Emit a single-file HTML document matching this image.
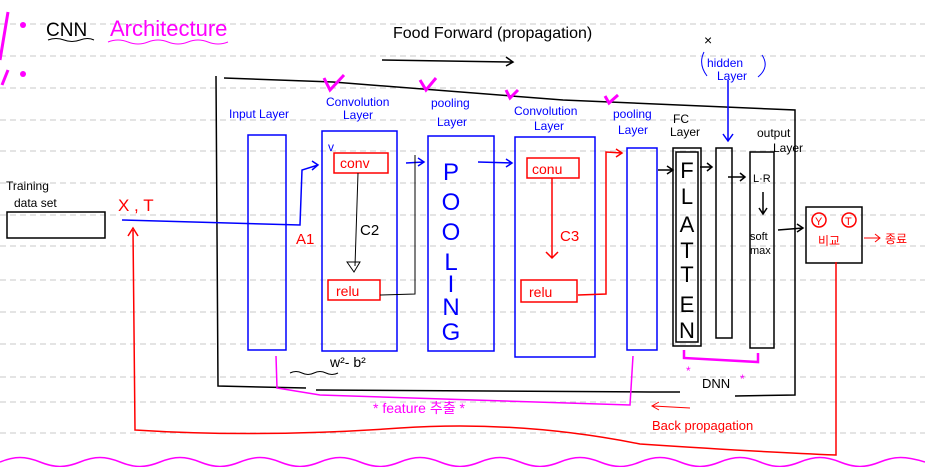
<!DOCTYPE html>
<html><head><meta charset="utf-8"><style>
html,body{margin:0;padding:0;background:#fff;overflow:hidden;}
svg{display:block}
text{font-family:"Liberation Sans","Noto Sans CJK KR",sans-serif;}
</style></head><body>
<svg width="925" height="467" viewBox="0 0 925 467" xmlns="http://www.w3.org/2000/svg">
<g stroke="#c8c8c8" stroke-width="1" stroke-dasharray="6,4">
<line x1="0" y1="24" x2="925" y2="24"/><line x1="0" y1="56" x2="925" y2="56"/>
<line x1="0" y1="88" x2="925" y2="88"/><line x1="0" y1="120" x2="925" y2="120"/>
<line x1="0" y1="151" x2="925" y2="151"/><line x1="0" y1="183" x2="925" y2="183"/>
<line x1="0" y1="215" x2="925" y2="215"/><line x1="0" y1="246" x2="925" y2="246"/>
<line x1="0" y1="280" x2="925" y2="280"/><line x1="0" y1="312" x2="925" y2="312"/>
<line x1="0" y1="344" x2="925" y2="344"/><line x1="0" y1="377" x2="925" y2="377"/>
<line x1="0" y1="402" x2="925" y2="402"/><line x1="0" y1="433" x2="925" y2="433"/>
</g>
<path d="M8 12 L0 60 M8 70 L2 85" stroke="#f0f" stroke-width="3" fill="none"/>
<circle cx="23" cy="25" r="3" fill="#f0f"/><circle cx="23" cy="74" r="3" fill="#f0f"/>
<text x="46" y="36" font-size="19" fill="#000">CNN</text>
<text x="110" y="36" font-size="22" fill="#f0f">Architecture</text>
<path d="M48 40 q8 -3 16 0 t16 0 t14 0" stroke="#000" fill="none"/>
<path d="M108 42 q10 -4 20 0 t20 0 t20 0 t20 0 t20 0 t20 0" stroke="#f0f" fill="none"/>
<text x="393" y="38" font-size="16" fill="#000">Food Forward (propagation)</text>
<path d="M382 60 L512 62 M506 57 L513 62 L506 66" stroke="#000" stroke-width="1.5" fill="none"/>
<path d="M216 76 L218 386 L306 388 M316 390 L650 392 L680 392 M224 78 L333 82 L563 100 L795 110 L795 395 L735 396" stroke="#000" stroke-width="1.5" fill="none"/>
<text x="6" y="190" font-size="12" fill="#000">Training</text>
<text x="14" y="207" font-size="12" fill="#000">data set</text>
<rect x="7" y="212" width="98" height="26" fill="none" stroke="#000" stroke-width="1.5"/>
<text x="118" y="211" font-size="17" fill="#f00">X , T</text>
<path d="M122 220 L300 225 L302 170 L318 165 M312 161 L318 165 L312 170" stroke="#00f" stroke-width="1.5" fill="none"/>
<text x="296" y="244" font-size="15" fill="#f00">A1</text>
<g fill="#00f" font-size="12">
<text x="229" y="118">Input Layer</text>
<text x="326" y="106">Convolution</text><text x="343" y="119">Layer</text>
<text x="431" y="107">pooling</text><text x="437" y="126">Layer</text>
<text x="514" y="115">Convolution</text><text x="534" y="130">Layer</text>
<text x="613" y="118">pooling</text><text x="618" y="134">Layer</text>
<text x="707" y="67">hidden</text><text x="717" y="80">Layer</text>
</g>
<text x="673" y="123" font-size="12" fill="#000">FC</text><text x="670" y="136" font-size="12" fill="#000">Layer</text>
<text x="757" y="137" font-size="12" fill="#000">output</text><text x="773" y="152" font-size="12" fill="#000">Layer</text>
<text x="704" y="45" font-size="14" fill="#000">×</text>
<path d="M728 80 L728 140 M723 134 L728 141 L733 134" stroke="#00f" stroke-width="1.5" fill="none"/>
<path d="M704 52 q-6 12 3 24 M762 55 q8 12 -4 22" stroke="#00f" fill="none"/>
<g stroke="#f0f" stroke-width="3" fill="none">
<path d="M324 78 L330 90 L344 75"/><path d="M420 80 L426 90 L436 78"/>
<path d="M506 90 L510 98 L518 90"/><path d="M605 96 L609 103 L618 95"/>
</g>
<g stroke="#00f" stroke-width="1.5" fill="none">
<rect x="248" y="135" width="38" height="215"/>
<rect x="322" y="131" width="75" height="220"/>
<rect x="428" y="136" width="66" height="215"/>
<rect x="515" y="137" width="80" height="220"/>
<rect x="627" y="148" width="30" height="202"/>
<path d="M406 163 L424 162 M418 158 L424 162 L418 166"/>
<path d="M478 162 L512 163 M506 159 L512 163 L506 167"/>
</g>
<g fill="#00f" font-size="24" text-anchor="middle">
<text x="451" y="180">P</text><text x="451" y="210">O</text><text x="451" y="240">O</text>
<text x="451" y="270">L</text><text x="451" y="292">I</text><text x="451" y="315">N</text><text x="451" y="340">G</text>
</g>
<g stroke="#f00" stroke-width="1.5" fill="none">
<rect x="334" y="153" width="54" height="20"/>
<rect x="328" y="280" width="52" height="20"/>
<rect x="527" y="158" width="52" height="20"/>
<rect x="521" y="280" width="56" height="22"/>
<path d="M552 178 L552 258 M546 252 L552 258 L558 252"/>
<path d="M578 295 L606 294 L606 152 L622 153 M616 149 L622 153 L616 157"/>
</g>
<g fill="#f00" font-size="14"><text x="340" y="168">conv</text><text x="532" y="174">conu</text>
<text x="336" y="296">relu</text><text x="529" y="297">relu</text>
<text x="560" y="241" font-size="15">C3</text></g>
<text x="328" y="151" font-size="12" fill="#00f">v</text>
<path d="M358 173 L355 266 M347 262 L354 272 L360 262 Z" stroke="#000" fill="none"/>
<text x="360" y="235" font-size="15" fill="#000">C2</text>
<path d="M380 295 L415 294 L415 155" stroke="#000" fill="none"/>
<text x="330" y="367" font-size="14" fill="#000">w²- b²</text>
<path d="M290 373 q6 -3 12 0 t12 0 t12 0 t12 0" stroke="#000" fill="none"/>
<g stroke="#000" stroke-width="1.5" fill="none">
<rect x="673" y="148" width="28" height="198"/>
<rect x="676" y="152" width="22" height="190"/>
<rect x="716" y="148" width="16" height="190"/>
<rect x="750" y="152" width="24" height="196"/>
<rect x="806" y="207" width="56" height="56"/>
<path d="M658 170 L672 170 M667 166 L673 170 L667 174"/>
<path d="M700 167 L712 167 M707 163 L712 167 L707 171"/>
<path d="M728 177 L745 177 M740 173 L745 177 L740 181"/>
<path d="M763 192 L763 214 M759 208 L763 214 L767 208"/>
<path d="M778 230 L803 228 M797 224 L803 228 L797 232"/>
</g>
<g fill="#000" font-size="22" text-anchor="middle">
<text x="687" y="178">F</text><text x="687" y="204">L</text><text x="687" y="232">A</text>
<text x="687" y="258">T</text><text x="687" y="282">T</text><text x="687" y="312">E</text><text x="687" y="338">N</text>
</g>
<text x="753" y="182" font-size="11" fill="#000">L·R</text>
<text x="750" y="240" font-size="11" fill="#000">soft</text><text x="750" y="254" font-size="11" fill="#000">max</text>
<circle cx="819" cy="220" r="7" fill="none" stroke="#f00" stroke-width="1.5"/>
<circle cx="849" cy="220" r="7" fill="none" stroke="#f00" stroke-width="1.5"/>
<text x="815" y="225" font-size="11" fill="#f00">Y</text><text x="845" y="225" font-size="11" fill="#f00">T</text>
<text x="818" y="245" font-size="12" fill="#f00">비교</text>
<path d="M864 238 L880 238 M875 234 L880 238 L875 242" stroke="#f00" fill="none"/>
<text x="885" y="243" font-size="12" fill="#f00">종료</text>
<path d="M684 350 L684 358 L758 362 L758 353" stroke="#f0f" stroke-width="2.5" fill="none"/>
<text x="702" y="388" font-size="13" fill="#000">DNN</text>
<text x="686" y="375" font-size="12" fill="#f0f">*</text><text x="740" y="383" font-size="12" fill="#f0f">*</text>
<path d="M276 356 L277 388 L320 395 L630 405 L633 356" stroke="#f0f" stroke-width="1.5" fill="none"/>
<text x="373" y="413" font-size="14" fill="#f0f">* feature 추출 *</text>
<path d="M690 408 L653 406 M659 402 L652 406 L659 410" stroke="#f00" fill="none"/>
<text x="652" y="430" font-size="13" fill="#f00">Back propagation</text>
<path d="M836 262 L836 455 Q760 452 640 444 Q520 420 400 428 Q260 438 135 430 L133 230 M128 236 L133 228 L138 236" stroke="#f00" stroke-width="1.5" fill="none"/>
<path d="M0 462 C15 456 25 456 40 462 S65 468 80 462 S105 456 120 462 S145 468 160 462 S185 456 200 462 S225 468 240 462 S265 456 280 462 S305 468 320 462 S345 456 360 462 S385 468 400 462 S425 456 440 462 S465 468 480 462 S505 456 520 462 S545 468 560 462 S585 456 600 462 S625 468 640 462 S665 456 680 462 S705 468 720 462 S745 456 760 462 S785 468 800 462 S825 456 840 462 S865 468 880 462 S905 456 925 462" stroke="#f0f" stroke-width="1.5" fill="none"/>
</svg>
</body></html>
